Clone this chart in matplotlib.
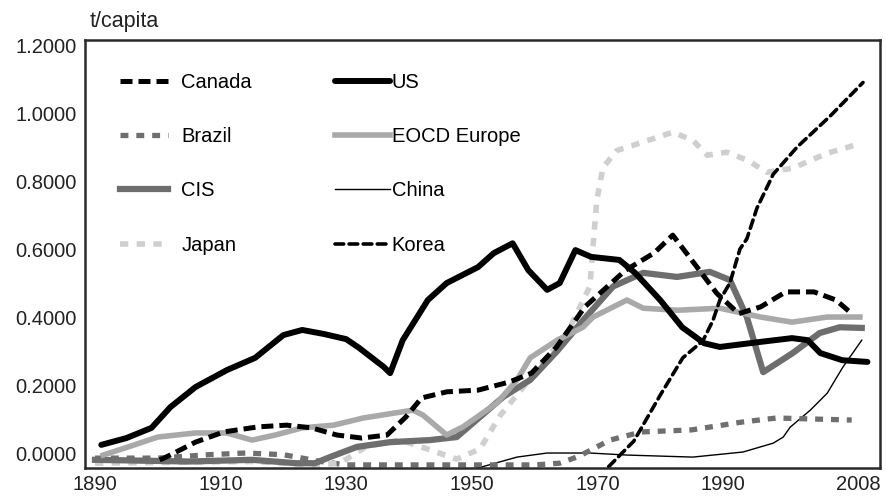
import matplotlib
matplotlib.use("Agg")
import matplotlib.pyplot as plt
from matplotlib.lines import Line2D

plt.rcParams['font.family'] = ['Liberation Sans', 'DejaVu Sans']

# values (t/capita)
us_years = [1891, 1895, 1899, 1902, 1906, 1911, 1915.5, 1920, 1923, 1926.5, 1930, 1932,
            1936, 1937, 1939, 1943, 1946, 1951, 1953.5, 1956.5, 1959, 1962, 1964, 1966.5,
            1969, 1973.5, 1976, 1980, 1983.5, 1987, 1989.5, 1996, 2001, 2003.5, 2005.5,
            2009, 2013]
us = [0.024, 0.044, 0.074, 0.135, 0.194, 0.244, 0.280, 0.347, 0.362, 0.350, 0.335, 0.310,
      0.253, 0.235, 0.332, 0.450, 0.500, 0.547, 0.588, 0.617, 0.538, 0.480, 0.500, 0.597,
      0.577, 0.568, 0.530, 0.450, 0.370, 0.323, 0.312, 0.327, 0.338, 0.332, 0.294,
      0.273, 0.268]

canada_years = [1900.3, 1901, 1906, 1910.5, 1916, 1920.5, 1924.5, 1928.5, 1932.5, 1936.5,
                1939.5, 1942, 1946, 1951, 1956, 1959.5, 1963.5, 1968, 1974.5, 1979, 1982,
                1985, 1989, 1992.5, 1996, 2000, 2004.5, 2008, 2010.5]
canada = [-0.020, -0.015, 0.032, 0.062, 0.077, 0.082, 0.074, 0.053, 0.044, 0.053,
          0.106, 0.162, 0.180, 0.185, 0.209, 0.235, 0.312, 0.430, 0.538, 0.588, 0.641,
          0.568, 0.470, 0.410, 0.430, 0.474, 0.474, 0.450, 0.410]

brazil_years = [1890, 1900, 1908, 1914, 1920, 1926, 1930, 1940, 1950, 1960, 1964, 1967,
                1972, 1977, 1985, 1993, 1998.5, 2010.5]
brazil = [-0.015, -0.015, -0.005, 0.000, -0.005, -0.025, -0.035, -0.035, -0.035, -0.035,
          -0.030, -0.010, 0.038, 0.062, 0.068, 0.091, 0.103, 0.097]

eocd_years = [1891.3, 1895.3, 1900, 1906, 1911, 1915, 1918.7, 1923, 1928, 1932.7, 1940.6,
              1942.2, 1946, 1948.6, 1954, 1957.2, 1959.3, 1963.6, 1967.7, 1969.3, 1974.7,
              1977.3, 1982.7, 1989.5, 1996, 2001, 2006.6, 2011.8]
eocd = [-0.006, 0.018, 0.047, 0.059, 0.059, 0.038, 0.053, 0.074, 0.082, 0.103, 0.126,
        0.112, 0.053, 0.077, 0.147, 0.215, 0.280, 0.332, 0.370, 0.400, 0.450,
        0.426, 0.420, 0.426, 0.400, 0.385, 0.400, 0.400]

cis_years = [1890, 1905, 1915, 1922, 1925, 1927.4, 1931.7, 1937, 1943.3, 1947.6, 1951.3,
             1955, 1959.3, 1963.6, 1967.7, 1972.5, 1977.3, 1982.7, 1987.9, 1991.1, 1993.8,
             1996.4, 2001.1, 2005.4, 2008.6, 2012.1]
cis = [-0.020, -0.025, -0.020, -0.030, -0.030, -0.012, 0.018, 0.032, 0.038, 0.047, 0.106,
       0.165, 0.215, 0.300, 0.390, 0.490, 0.530, 0.518, 0.533, 0.509, 0.400,
       0.238, 0.294, 0.353, 0.370, 0.368]

china_years = [1950.8, 1957.2, 1962, 1968.8, 1974.7, 1985.2, 1993.2, 1998, 1999.6, 2000.7,
               2003.9, 2006.6, 2009.1, 2012.1]
china = [-0.045, -0.012, 0.000, 0.000, -0.006, -0.012, 0.003, 0.029, 0.047, 0.076,
         0.126, 0.176, 0.253, 0.332]

japan_years = [1890, 1915, 1925, 1929, 1933.3, 1938.6, 1942.9, 1947.6, 1951.3, 1954.5,
               1959.7, 1965.2, 1968.8, 1969.9, 1970.9, 1973.1, 1977.3, 1982, 1985.2, 1987.5,
               1990.6, 1993.8, 1997, 2001.1, 2006.6, 2011.8]
japan = [-0.030, -0.025, -0.035, -0.030, 0.020, 0.038, 0.012, -0.018, 0.012, 0.110,
         0.228, 0.353, 0.490, 0.744, 0.840, 0.890, 0.915, 0.944, 0.920, 0.876,
         0.885, 0.862, 0.826, 0.838, 0.882, 0.910]

korea_years = [1971.8, 1975.8, 1980, 1983.6, 1986.8, 1988.4, 1989.5, 1991.1, 1992.7, 1993.8,
               1995.4, 1998, 2001.8, 2007, 2012.3]
korea = [-0.040, 0.035, 0.170, 0.280, 0.330, 0.390, 0.450, 0.500, 0.600, 0.630,
         0.720, 0.820, 0.900, 0.990, 1.090]

yticks = [0.0, 0.2, 0.4, 0.6, 0.8, 1.0, 1.2]
xtick_pos = [1890, 1910, 1930, 1950, 1970, 1990, 2011.5]
xtick_labels = ['1890', '1910', '1930', '1950', '1970', '1990', '2008']

fig = plt.figure(figsize=(8.86, 4.97), dpi=100)
ax = fig.add_axes([0.0959, 0.0584, 0.8973, 0.8611])

styles = {
    'Canada': dict(color='black', lw=3.6, ls=(0, (2.4, 1.2)), dash_capstyle='butt'),
    'US': dict(color='black', lw=4.3, solid_capstyle='round', solid_joinstyle='round'),
    'Brazil': dict(color='#6f6f6f', lw=3.8, ls=(0, (1.5, 1.5)), dash_capstyle='butt'),
    'EOCD Europe': dict(color='#a9a9a9', lw=4.0, solid_joinstyle='round'),
    'CIS': dict(color='#6e6e6e', lw=4.5, solid_joinstyle='round'),
    'China': dict(color='black', lw=1.0),
    'Japan': dict(color='#cfcfcf', lw=4.0, ls=(0, (1.5, 1.5)), dash_capstyle='butt'),
    'Korea': dict(color='black', lw=2.6, ls=(0, (2.4, 1.5)), dash_capstyle='round'),
}

ax.plot(china_years, china, **styles['China'])
ax.plot(brazil_years, brazil, **styles['Brazil'])
ax.plot(japan_years, japan, **styles['Japan'])
ax.plot(cis_years, cis, **styles['CIS'])
ax.plot(eocd_years, eocd, **styles['EOCD Europe'])
ax.plot(korea_years, korea, **styles['Korea'])
ax.plot(canada_years, canada, **styles['Canada'])
ax.plot(us_years, us, **styles['US'])

ax.set_xlim(1888.4, 2015.0)
ax.set_ylim(-0.044, 1.215)
ax.set_yticks(yticks, [f"{v:.4f}" for v in yticks])
ax.set_xticks(xtick_pos, xtick_labels)
ax.tick_params(length=0, labelsize=14.5, pad=6, colors='#222222')
ax.tick_params(axis='x', pad=5)
for s in ax.spines.values():
    s.set_color('#2a2a2a')
    s.set_linewidth(1.8)

fig.text(90 / 886, 1 - 22 / 497, 't/capita', fontsize=15.5, va='center', ha='left',
         color='#222222')

def handles(names):
    return [Line2D([], [], **styles[n]) for n in names]

col1 = ['Canada', 'Brazil', 'CIS', 'Japan']
col2 = ['US', 'EOCD Europe', 'China', 'Korea']
leg1 = ax.legend(handles(col1), col1, loc='upper left', bbox_to_anchor=(0.044, 0.923),
                 frameon=False, fontsize=14.5, handlelength=2.4, handletextpad=0.65,
                 labelspacing=1.75, borderpad=0, borderaxespad=0)
ax.add_artist(leg1)
ax.legend(handles(col2), col2, loc='upper left', bbox_to_anchor=(0.315, 0.923),
          frameon=False, fontsize=14.5, handlelength=2.7, handletextpad=0.1,
          labelspacing=1.75, borderpad=0, borderaxespad=0)

fig.savefig('out.png', dpi=100)
